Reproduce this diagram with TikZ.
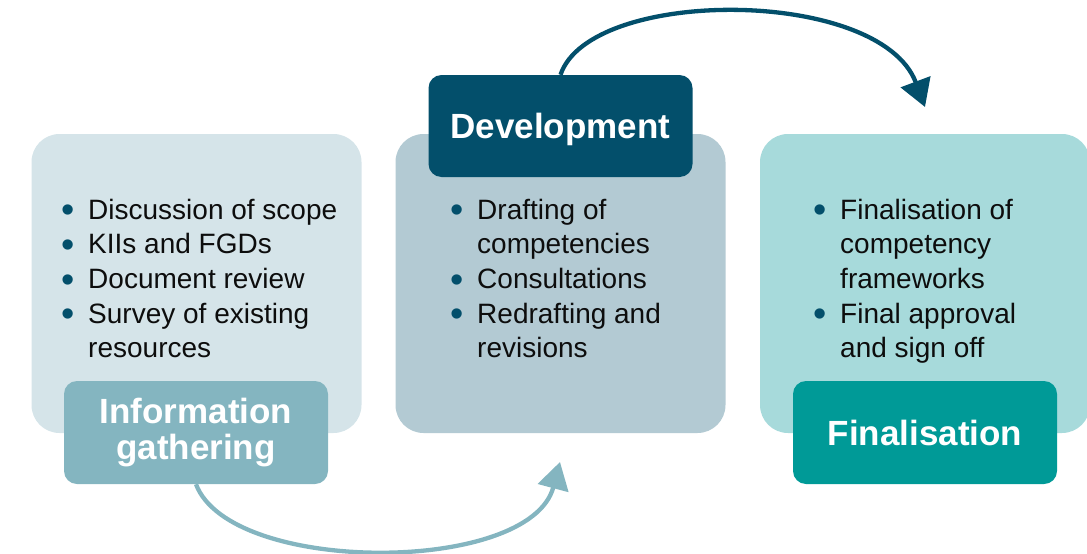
\documentclass[tikz,border=0pt]{standalone}
\usepackage{fontspec}
\setmainfont{Liberation Sans}
\usetikzlibrary{arrows.meta}
\definecolor{infopale}{HTML}{D5E4E9}
\definecolor{infoteal}{HTML}{84B5C0}
\definecolor{devpale}{HTML}{B3CAD3}
\definecolor{devblue}{HTML}{034F6B}
\definecolor{finpale}{HTML}{A7DADB}
\definecolor{finteal}{HTML}{009A97}
\definecolor{inkblack}{HTML}{0D0D0D}
\newcommand{\stepdot}{{\color{devblue}\raisebox{-3.8pt}{\scalebox{1.35}{\textbullet}}}}

\begin{document}
\begin{tikzpicture}[x=1pt, y=-1pt,
	panel/.style={rounded corners=28pt, minimum width=330pt, minimum height=299pt, inner sep=0pt},
	stage/.style={rounded corners=13pt, minimum width=264pt, minimum height=103pt, inner sep=0pt, text=white, align=center, font=\fontsize{35}{36}\selectfont\bfseries},
	steps/.style={anchor=base west, inner sep=0pt, text=inkblack, font=\fontsize{28}{34.7}\selectfont},
	loop/.style={line width=4.3pt, -{Triangle[length=27pt, width=31pt]}}]
	\useasboundingbox (0,0) rectangle (1087,554);
	\node[panel, fill=infopale] (infopanel) at (196.5,283.5) {};
	\node[panel, fill=devpale] (devpanel) at (560.5,283.5) {};
	\node[panel, fill=finpale] (finpanel) at (925,283.5) {};
	\node[steps] (infosteps) at (61.4,219) {\begin{tabular}[t]{@{}l@{\hspace{13.4pt}}l@{}}
	  \stepdot & Discussion of scope\\
	  \stepdot & KIIs and FGDs\\
	  \stepdot & Document review\\
	  \stepdot & Survey of existing\\
	  & resources
	\end{tabular}};
	\node[steps] (devsteps) at (450.4,219) {\begin{tabular}[t]{@{}l@{\hspace{13.4pt}}l@{}}
	  \stepdot & Drafting of\\
	  & competencies\\
	  \stepdot & Consultations\\
	  \stepdot & Redrafting and\\
	  & revisions
	\end{tabular}};
	\node[steps] (finsteps) at (813.4,219) {\begin{tabular}[t]{@{}l@{\hspace{13.4pt}}l@{}}
	  \stepdot & Finalisation of\\
	  & competency\\
	  & frameworks\\
	  \stepdot & Final approval\\
	  & and sign off
	\end{tabular}};
	\node[stage, fill=infoteal] (infostage) at (196,432.5) {Information\\gathering};
	\node[stage, fill=devblue, minimum height=102pt, text depth=0pt] (devstage) at (560.5,126) {Development};
	\node[stage, fill=finteal] (finstage) at (925,432.5) {Finalisation};
	\coordinate (devin) at (560,462);
	\coordinate (finin) at (925,107);
	\draw[loop, color=infoteal] (infostage.south) .. controls +(34,91) and +(-30,113) .. (devin);
	\draw[loop, color=devblue] (devstage.north) .. controls +(29.5,-88) and +(-45,-120) .. (finin);
\end{tikzpicture}
\end{document}
